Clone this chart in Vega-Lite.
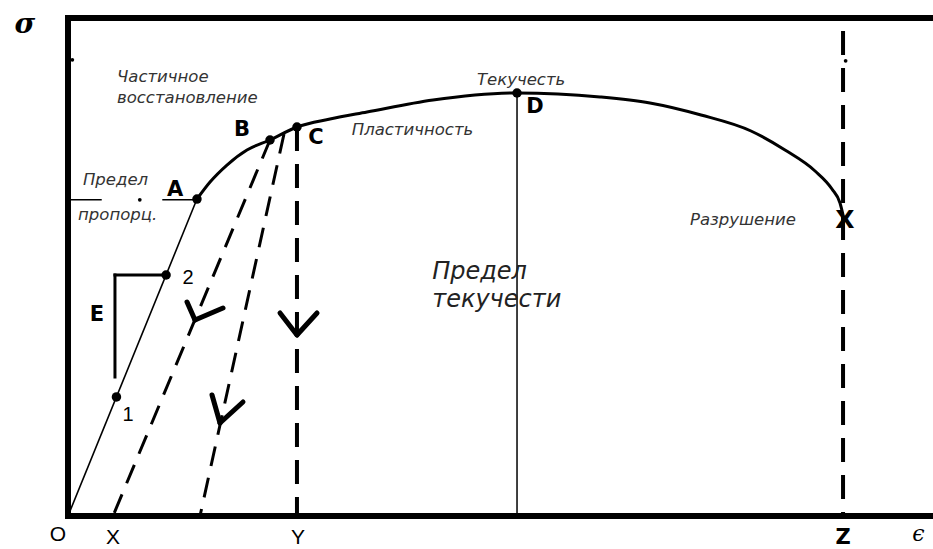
{
  "$schema": "https://vega.github.io/schema/vega-lite/v6.json",
  "width": 865,
  "height": 498,
  "autosize": {"type": "none"},
  "padding": {"left": 68, "top": 18, "right": 0, "bottom": 33},
  "background": "white",
  "config": {"view": {"stroke": null}},
  "datasets": {
    "frame": [
      {"x": 0, "y": 0, "x2": 0, "y2": 100},
      {"x": 0, "y": 0, "x2": 100, "y2": 0},
      {"x": 0, "y": 100, "x2": 100, "y2": 100}
    ],
    "elastic": [
      {"x": 0, "y": 0},
      {"x": 14.91, "y": 63.65}
    ],
    "plastic": [
      {"x": 14.91, "y": 63.65},
      {"x": 16.42, "y": 67.07},
      {"x": 18.38, "y": 70.48},
      {"x": 20.69, "y": 73.49},
      {"x": 23.35, "y": 75.5},
      {"x": 26.47, "y": 78.11},
      {"x": 30.29, "y": 79.72},
      {"x": 34.57, "y": 81.12},
      {"x": 42.2, "y": 83.53},
      {"x": 51.91, "y": 84.94},
      {"x": 61.5, "y": 84.14},
      {"x": 67.28, "y": 82.93},
      {"x": 73.18, "y": 80.52},
      {"x": 78.96, "y": 77.31},
      {"x": 82.89, "y": 73.49},
      {"x": 86.36, "y": 69.28},
      {"x": 88.32, "y": 65.66},
      {"x": 89.25, "y": 62.85},
      {"x": 89.6, "y": 60.44}
    ],
    "unload": [
      {"x": 23.35, "y": 75.5, "x2": 5.2, "y2": 0},
      {"x": 24.97, "y": 76.71, "x2": 15.26, "y2": 0}
    ],
    "verticals": [
      {"x": 26.47, "y": 78.11, "x2": 26.47, "y2": 0},
      {"x": 89.6, "y": 97.4, "x2": 89.6, "y2": 0}
    ],
    "thin": [
      {"x": 51.91, "y": 84.94, "x2": 51.91, "y2": 0},
      {"x": 0, "y": 63.5, "x2": 3.9, "y2": 63.5},
      {"x": 10.9, "y": 63.5, "x2": 14.91, "y2": 63.5}
    ],
    "bracket": [
      {"x": 5.43, "y": 48.39, "x2": 5.43, "y2": 27.91},
      {"x": 5.43, "y": 48.39, "x2": 10.87, "y2": 48.39}
    ],
    "arrows": [
      {"x": 13.76, "y": 42.97, "x2": 14.68, "y2": 39.36},
      {"x": 17.92, "y": 41.77, "x2": 14.68, "y2": 39.36},
      {"x": 16.65, "y": 24.3, "x2": 17.57, "y2": 18.67},
      {"x": 20.23, "y": 22.89, "x2": 17.57, "y2": 18.67},
      {"x": 24.51, "y": 40.76, "x2": 26.47, "y2": 36.35},
      {"x": 28.79, "y": 40.76, "x2": 26.47, "y2": 36.35}
    ],
    "dots": [
      {"x": 5.6, "y": 23.9},
      {"x": 11.34, "y": 48.39},
      {"x": 14.91, "y": 63.65},
      {"x": 23.35, "y": 75.5},
      {"x": 26.47, "y": 78.11},
      {"x": 51.91, "y": 84.94}
    ],
    "smalldots": [
      {"x": 8.3, "y": 63.5},
      {"x": 89.9, "y": 91.4},
      {"x": 0.5, "y": 91.6}
    ],
    "notes": [
      {"x": 5.66, "y": 88.2, "t": "Частичное"},
      {"x": 5.66, "y": 83.9, "t": "восстановление"},
      {"x": 1.73, "y": 67.5, "t": "Предел"},
      {"x": 1.16, "y": 60.4, "t": "пропорц."},
      {"x": 47.28, "y": 87.6, "t": "Текучесть"},
      {"x": 32.8, "y": 77.5, "t": "Пластичность"},
      {"x": 71.9, "y": 59.4, "t": "Разрушение"}
    ],
    "bignotes": [
      {"x": 42.1, "y": 49.0, "t": "Предел"},
      {"x": 42.1, "y": 43.4, "t": "текучести"}
    ],
    "letters": [
      {"x": 12.37, "y": 65.46, "t": "A"},
      {"x": 20.12, "y": 77.51, "t": "B"},
      {"x": 28.67, "y": 75.9, "t": "C"},
      {"x": 53.99, "y": 82.13, "t": "D"},
      {"x": 3.35, "y": 40.36, "t": "E"}
    ],
    "xmark": [
      {"x": 89.8, "y": 59.4, "t": "X"}
    ],
    "numbers": [
      {"x": 6.94, "y": 20.28, "t": "1"},
      {"x": 13.87, "y": 47.79, "t": "2"}
    ],
    "axisletters": [
      {"x": -1.16, "y": -3.8, "t": "O"},
      {"x": 5.2, "y": -4.4, "t": "X"},
      {"x": 26.6, "y": -4.4, "t": "Y"}
    ],
    "zletter": [
      {"x": 89.6, "y": -4.4, "t": "Z"}
    ],
    "eps": [
      {"x": 98.3, "y": -3.6, "t": "ϵ"}
    ],
    "sigma": [
      {"x": -5.0, "y": 98.6, "t": "σ"}
    ]
  },
  "encoding": {
    "x": {"field": "x", "type": "quantitative", "scale": {"domain": [0, 100], "nice": false, "zero": false}, "axis": null},
    "y": {"field": "y", "type": "quantitative", "scale": {"domain": [0, 100], "nice": false, "zero": false}, "axis": null}
  },
  "layer": [
    {
      "data": {"name": "frame"},
      "mark": {"type": "rule", "color": "black", "strokeWidth": 6, "strokeCap": "square"},
      "encoding": {"x2": {"field": "x2"}, "y2": {"field": "y2"}}
    },
    {
      "data": {"name": "elastic"},
      "mark": {"type": "line", "color": "black", "strokeWidth": 1.6},
      "encoding": {}
    },
    {
      "data": {"name": "plastic"},
      "mark": {"type": "line", "color": "black", "strokeWidth": 3, "interpolate": "monotone"},
      "encoding": {}
    },
    {
      "data": {"name": "unload"},
      "mark": {"type": "rule", "color": "black", "strokeWidth": 3, "strokeDash": [20, 12]},
      "encoding": {"x2": {"field": "x2"}, "y2": {"field": "y2"}}
    },
    {
      "data": {"name": "verticals"},
      "mark": {"type": "rule", "color": "black", "strokeWidth": 4, "strokeDash": [24, 13]},
      "encoding": {"x2": {"field": "x2"}, "y2": {"field": "y2"}}
    },
    {
      "data": {"name": "thin"},
      "mark": {"type": "rule", "color": "black", "strokeWidth": 1.5},
      "encoding": {"x2": {"field": "x2"}, "y2": {"field": "y2"}}
    },
    {
      "data": {"name": "bracket"},
      "mark": {"type": "rule", "color": "black", "strokeWidth": 3, "strokeCap": "square"},
      "encoding": {"x2": {"field": "x2"}, "y2": {"field": "y2"}}
    },
    {
      "data": {"name": "arrows"},
      "mark": {"type": "rule", "color": "black", "strokeWidth": 5, "strokeCap": "round"},
      "encoding": {"x2": {"field": "x2"}, "y2": {"field": "y2"}}
    },
    {
      "data": {"name": "dots"},
      "mark": {"type": "point", "filled": true, "color": "black", "opacity": 1, "size": 90},
      "encoding": {}
    },
    {
      "data": {"name": "smalldots"},
      "mark": {"type": "point", "filled": true, "color": "black", "opacity": 1, "size": 14},
      "encoding": {}
    },
    {
      "data": {"name": "notes"},
      "mark": {"type": "text", "align": "left", "baseline": "middle", "font": "DejaVu Sans", "fontStyle": "italic", "fontSize": 16.5, "color": "#333"},
      "encoding": {"text": {"field": "t"}}
    },
    {
      "data": {"name": "bignotes"},
      "mark": {"type": "text", "align": "left", "baseline": "middle", "font": "DejaVu Sans", "fontStyle": "italic", "fontSize": 24, "color": "#222"},
      "encoding": {"text": {"field": "t"}}
    },
    {
      "data": {"name": "letters"},
      "mark": {"type": "text", "align": "center", "baseline": "middle", "font": "DejaVu Sans", "fontWeight": "bold", "fontSize": 21, "color": "black"},
      "encoding": {"text": {"field": "t"}}
    },
    {
      "data": {"name": "xmark"},
      "mark": {"type": "text", "align": "center", "baseline": "middle", "font": "DejaVu Sans", "fontWeight": "bold", "fontSize": 25, "color": "black"},
      "encoding": {"text": {"field": "t"}}
    },
    {
      "data": {"name": "numbers"},
      "mark": {"type": "text", "align": "center", "baseline": "middle", "font": "Liberation Sans", "fontSize": 20, "color": "black"},
      "encoding": {"text": {"field": "t"}}
    },
    {
      "data": {"name": "axisletters"},
      "mark": {"type": "text", "align": "center", "baseline": "middle", "font": "Liberation Sans", "fontSize": 21, "color": "black"},
      "encoding": {"text": {"field": "t"}}
    },
    {
      "data": {"name": "zletter"},
      "mark": {"type": "text", "align": "center", "baseline": "middle", "font": "DejaVu Sans", "fontWeight": "bold", "fontSize": 21, "color": "black"},
      "encoding": {"text": {"field": "t"}}
    },
    {
      "data": {"name": "eps"},
      "mark": {"type": "text", "align": "center", "baseline": "middle", "font": "DejaVu Serif", "fontStyle": "italic", "fontSize": 22, "color": "black"},
      "encoding": {"text": {"field": "t"}}
    },
    {
      "data": {"name": "sigma"},
      "mark": {"type": "text", "align": "center", "baseline": "middle", "font": "DejaVu Serif", "fontStyle": "italic", "fontWeight": "bold", "fontSize": 28, "color": "black"},
      "encoding": {"text": {"field": "t"}}
    }
  ]
}
